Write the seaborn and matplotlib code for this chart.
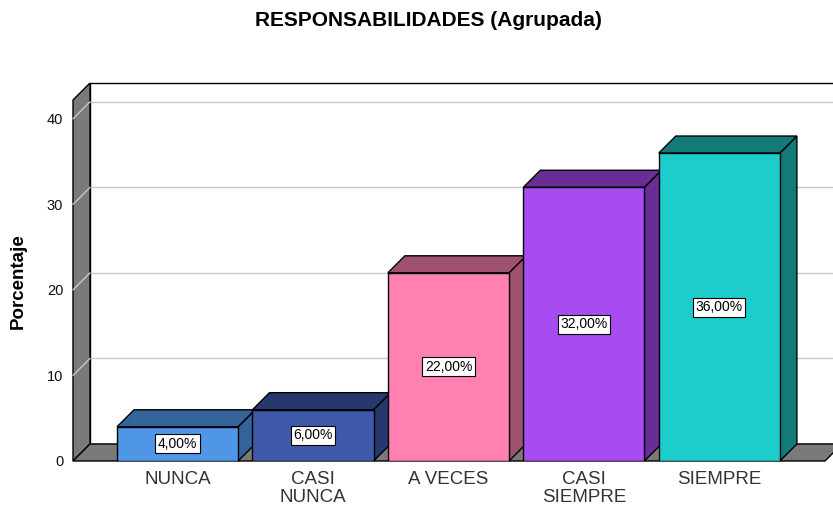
import matplotlib
matplotlib.use("Agg")
import matplotlib.pyplot as plt
from matplotlib.patches import Polygon, Rectangle
import seaborn as sns
import pandas as pd

# ---- data ----
categories = ["NUNCA", "CASI\nNUNCA", "A VECES", "CASI\nSIEMPRE", "SIEMPRE"]
percentages = [4.0, 6.0, 22.0, 32.0, 36.0]
front_colors = ["#5096e6", "#3f59a9", "#ff80b1", "#a64cf0", "#1ccdcc"]
shade_colors = ["#34649a", "#26386e", "#9f5270", "#6a2c95", "#127b7a"]
y_ticks = [0, 10, 20, 30, 40]
title = "RESPONSABILIDADES (Agrupada)"
ylabel = "Porcentaje"

sns.set_theme(style="white")
plt.rcParams["font.family"] = ["Liberation Sans", "DejaVu Sans"]

W, H, DPI = 833, 507, 100
fig = plt.figure(figsize=(W / DPI, H / DPI), dpi=DPI)
fig.patch.set_facecolor("white")
ax = fig.add_axes([73 / W, 46 / H, (825 - 73) / W, (461 - 100) / H])
ax.set_facecolor("none")

df = pd.DataFrame({"cat": categories, "pct": percentages})
sns.barplot(data=df, x="cat", y="pct", hue="cat", palette=front_colors,
            width=0.894, edgecolor="black", linewidth=1.0, saturation=1,
            legend=False, ax=ax)

x0, x1 = -0.772, 4.78
y0, y1 = 0, 42.2
ax.set_xlim(x0, x1)
ax.set_ylim(y0, y1)

# depth offset (pixels -> data units)
fig.canvas.draw()
inv = ax.transData.inverted()
p0 = ax.transData.transform((0, 0))
dd = inv.transform(p0 + [17, 17])
ddx, ddy = dd[0], dd[1]

# back wall
back = Rectangle((x0 + ddx, y0 + ddy), x1 - x0, y1 - y0, facecolor="white",
                 edgecolor="black", linewidth=1.0, clip_on=False, zorder=1)
ax.add_patch(back)
for v in y_ticks[1:]:
    ax.plot([x0 + ddx, x1 + ddx], [v + ddy, v + ddy], color="#c8c8c8",
            lw=1.0, clip_on=False, zorder=2)
# left wall
wall = Polygon([(x0, y0), (x0, y1), (x0 + ddx, y1 + ddy), (x0 + ddx, y0 + ddy)],
               closed=True, facecolor="#7a7a7a", edgecolor="black", lw=1.0,
               clip_on=False, zorder=3)
ax.add_patch(wall)
for v in y_ticks[1:]:
    ax.plot([x0, x0 + ddx], [v, v + ddy], color="#c8c8c8", lw=1.0,
            clip_on=False, zorder=4)
# floor
floor = Polygon([(x0, y0), (x1, y0), (x1 + ddx, y0 + ddy), (x0 + ddx, y0 + ddy)],
                closed=True, facecolor="#7a7a7a", edgecolor="black", lw=1.0,
                clip_on=False, zorder=3)
ax.add_patch(floor)

# 3D faces of bars
for i, cont in enumerate(ax.containers):
    for bar in cont:
        bx = bar.get_x()
        bw = bar.get_width()
        bh = bar.get_height()
        bar.set_zorder(10 + 3 * i + 2)
        top = Polygon([(bx, bh), (bx + bw, bh), (bx + bw + ddx, bh + ddy),
                       (bx + ddx, bh + ddy)], closed=True,
                      facecolor=shade_colors[i], edgecolor="black", lw=1.0,
                      clip_on=False, zorder=10 + 3 * i + 1)
        side = Polygon([(bx + bw, 0), (bx + bw, bh), (bx + bw + ddx, bh + ddy),
                        (bx + bw + ddx, ddy)], closed=True,
                       facecolor=shade_colors[i], edgecolor="black", lw=1.0,
                       clip_on=False, zorder=10 + 3 * i + 1)
        ax.add_patch(side)
        ax.add_patch(top)
    labs = ax.bar_label(cont, labels=[f"{v:.2f}%".replace(".", ",") for v in cont.datavalues],
                        label_type="center", fontsize=10, color="black",
                        bbox=dict(boxstyle="square,pad=0.18", fc="white",
                                  ec="black", lw=0.8))
    for t in labs:
        t.set_zorder(50)

for s in ax.spines.values():
    s.set_visible(False)
ax.grid(False)
ax.set_yticks(y_ticks)
ax.tick_params(axis="y", length=0, pad=7, labelsize=10.5, labelcolor="#111111")
ax.tick_params(axis="x", length=0, pad=7, labelsize=13.5, labelcolor="#333333")
for lab in ax.get_xticklabels():
    lab.set_linespacing(1.1)
ax.set_xlabel("")
ax.set_ylabel("")

fig.text(428 / W, 1 - 20 / H, title, ha="center", va="center",
         fontsize=15, fontweight="bold", color="black")
fig.text(18 / W, 1 - 281 / H, ylabel, ha="center", va="center", rotation=90,
         fontsize=13.5, fontweight="bold", color="black")

fig.savefig("out.png", dpi=DPI)
